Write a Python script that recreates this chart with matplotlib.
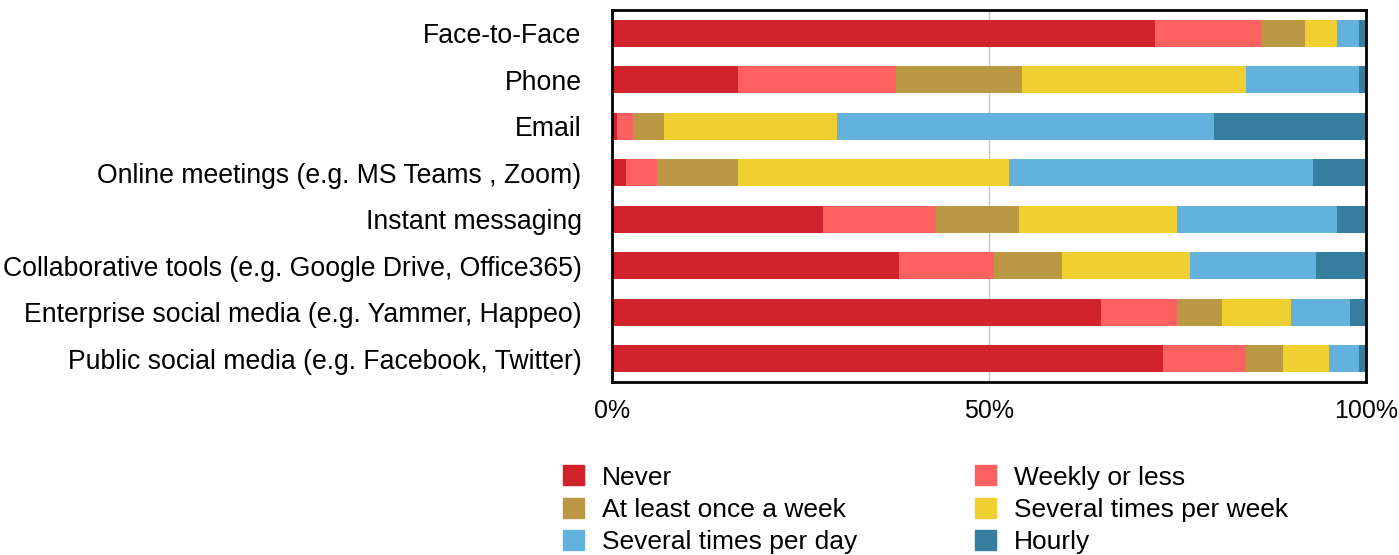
import numpy as np
import matplotlib
matplotlib.use("Agg")
import matplotlib.pyplot as plt
from matplotlib.patches import Patch

plt.rcParams['font.family'] = ['Liberation Sans', 'DejaVu Sans']

channels = ['Face-to-Face', 'Phone', 'Email',
            'Online meetings (e.g. MS Teams , Zoom)',
            'Instant messaging',
            'Collaborative tools (e.g. Google Drive, Office365)',
            'Enterprise social media (e.g. Yammer, Happeo)',
            'Public social media (e.g. Facebook, Twitter)']

series = ['Never', 'Weekly or less', 'At least once a week',
          'Several times per week', 'Several times per day', 'Hourly']

never        = [72.0, 16.7,  0.7,  1.8, 28.0, 38.0, 64.9, 73.1]
weekly_less  = [14.0, 21.0,  2.1,  4.1, 15.0, 12.7, 10.0, 11.0]
once_week    = [ 5.9, 16.6,  4.1, 10.8, 10.9,  9.0,  6.0,  4.9]
several_week = [ 4.3, 29.8, 22.9, 35.9, 21.0, 17.0,  9.2,  6.1]
several_day  = [ 2.8, 14.9, 50.0, 40.4, 21.3, 16.6,  7.8,  3.9]
hourly       = [ 1.0,  1.0, 20.2,  7.0,  3.8,  6.7,  2.1,  1.0]

colors = ['#D0232B', '#FF6060', '#BB9844', '#F0D030', '#63B1DD', '#357EA0']

data = [never, weekly_less, once_week, several_week, several_day, hourly]

fig = plt.figure(figsize=(13.99, 5.55), dpi=100)
ax = fig.add_axes([0.4375, 0.312, 0.539, 0.670])

ind = np.arange(len(channels))
left = np.zeros(len(channels))
for vals, col, name in zip(data, colors, series):
    ax.barh(ind, vals, left=left, height=0.58, color=col, label=name, zorder=2)
    left += np.array(vals)

ax.set_xlim(0, 100)
ax.set_ylim(len(channels) - 0.5, -0.5)
ax.set_xticks([0, 50, 100])
ax.set_xticklabels(['0%', '50%', '100%'])
ax.set_yticks(ind)
ax.set_yticklabels(channels)
ax.tick_params(axis='both', length=0)
ax.tick_params(axis='y', pad=22, labelsize=19.2)
ax.tick_params(axis='x', pad=12, labelsize=18)
ax.axvline(50, color='#c8c8c8', lw=1, zorder=1)
for s in ax.spines.values():
    s.set_linewidth(2)
    s.set_color('black')

# row-major legend order for a 2-column layout
order = [0, 2, 4, 1, 3, 5]
handles = [Patch(color=colors[i], label=series[i]) for i in order]
fig.legend(handles=handles, loc='upper left', bbox_to_anchor=(0.4024, 0.1616),
           ncol=2, frameon=False, fontsize=19, handlelength=0.8,
           handleheight=0.8, handletextpad=0.68, columnspacing=4.45,
           labelspacing=0.31, borderaxespad=0, borderpad=0)

fig.savefig('out.png', dpi=100)
